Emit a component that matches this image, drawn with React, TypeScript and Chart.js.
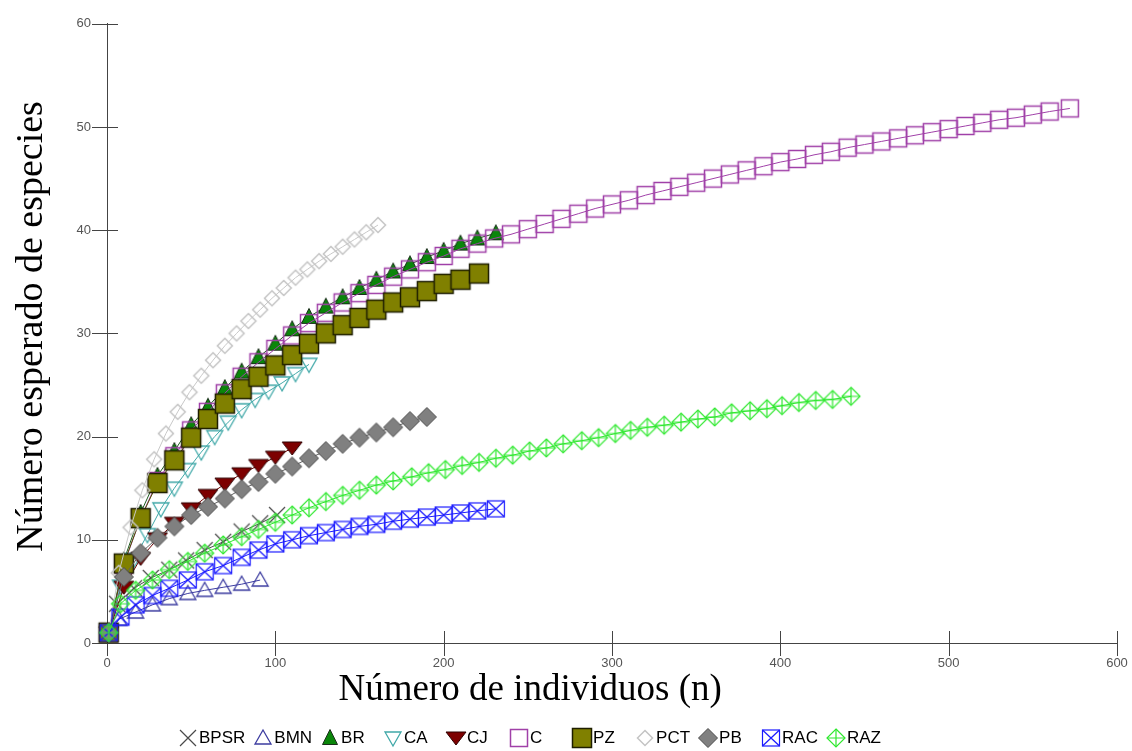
import React, { useEffect, useRef } from 'react';
import { Chart, registerables } from 'chart.js';

Chart.register(...registerables);

// ---- data ----
const seriesNames = ['BPSR', 'BMN', 'BR', 'CA', 'CJ', 'C', 'PZ', 'PCT', 'PB', 'RAC', 'RAZ'];

const xTicks = [0, 100, 200, 300, 400, 500, 600];
const yTicks = [0, 10, 20, 30, 40, 50, 60];
const xTitle = 'Número de individuos (n)';
const yTitle = 'Número esperado de especies';

const bpsrX = [1, 6, 16, 26, 37, 47, 58, 69, 80, 91, 101];
const bpsrY = [1, 3.8, 5.3, 6.3, 7.1, 8.0, 9.0, 9.8, 10.8, 11.6, 12.4];

const bmnX = [1, 7, 17, 27, 37, 48, 58, 69, 80, 91];
const bmnY = [1, 2.3, 3.0, 3.7, 4.3, 4.8, 5.1, 5.4, 5.7, 6.1];

const brX = [1, 10, 20, 30, 40, 50, 60, 70, 80, 90, 100, 110, 120, 130, 140, 150, 160, 170, 180, 190, 200, 210, 220, 231];
const brY = [1, 8.0, 12.6, 16.2, 18.6, 21.1, 22.9, 24.7, 26.3, 27.7, 29.0, 30.4, 31.6, 32.6, 33.5, 34.4, 35.2, 36.0, 36.7, 37.4, 38.0, 38.7, 39.2, 39.7];

const caX = [1, 8, 16, 24, 32, 40, 48, 56, 64, 72, 80, 88, 96, 104, 112, 120];
const caY = [1, 5.5, 8.1, 10.5, 13.0, 15.0, 16.8, 18.5, 20.0, 21.4, 22.6, 23.6, 24.4, 25.2, 26.1, 27.0];

const cjX = [1, 10, 20, 30, 40, 50, 60, 70, 80, 90, 100, 110];
const cjY = [1, 5.4, 8.2, 10.1, 11.6, 13.0, 14.3, 15.4, 16.4, 17.2, 18.0, 18.9];

const cX = [1, 10, 20, 30, 40, 50, 60, 70, 80, 90, 100, 110, 120, 130, 140, 150, 160, 170, 180, 190, 200,
  210, 220, 230, 240, 250, 260, 270, 280, 290, 300, 310, 320, 330, 340, 350, 360, 370, 380, 390, 400,
  410, 420, 430, 440, 450, 460, 470, 480, 490, 500, 510, 520, 530, 540, 550, 560, 572];
const cY = [1, 7.6, 12.1, 15.7, 18.1, 20.6, 22.4, 24.2, 25.8, 27.2, 28.5, 29.8, 31.0, 32.0, 33.0, 33.9, 34.7, 35.5, 36.2, 36.9, 37.5,
  38.2, 38.7, 39.2, 39.6, 40.1, 40.6, 41.1, 41.6, 42.1, 42.5, 42.9, 43.4, 43.8, 44.2, 44.6, 45.0, 45.4, 45.8, 46.2, 46.6,
  46.9, 47.3, 47.6, 48.0, 48.3, 48.6, 48.9, 49.2, 49.5, 49.8, 50.1, 50.4, 50.7, 50.9, 51.2, 51.5, 51.8];

const pzX = [1, 10, 20, 30, 40, 50, 60, 70, 80, 90, 100, 110, 120, 130, 140, 150, 160, 170, 180, 190, 200, 210, 221];
const pzY = [1, 7.7, 12.1, 15.5, 17.7, 19.9, 21.7, 23.2, 24.6, 25.8, 26.9, 27.9, 29.0, 30.0, 30.8, 31.5, 32.3, 33.0, 33.5, 34.1, 34.8, 35.2, 35.8];

const pctX = [1, 7, 14, 21, 28, 35, 42, 49, 56, 63, 70, 77, 84, 91, 98, 105, 112, 119, 126, 133, 140, 147, 154, 161];
const pctY = [1, 6.8, 11.2, 14.8, 17.8, 20.3, 22.4, 24.3, 25.9, 27.4, 28.8, 30.0, 31.2, 32.3, 33.4, 34.4, 35.4, 36.2, 37.0, 37.7, 38.4, 39.1, 39.8, 40.5];

const pbX = [1, 10, 20, 30, 40, 50, 60, 70, 80, 90, 100, 110, 120, 130, 140, 150, 160, 170, 180, 190];
const pbY = [1, 6.4, 8.7, 10.2, 11.3, 12.4, 13.2, 14.0, 14.9, 15.6, 16.4, 17.1, 17.9, 18.6, 19.3, 19.9, 20.4, 20.9, 21.5, 21.9];

const racX = [1, 8, 17, 27, 37, 48, 58, 69, 80, 90, 100, 110, 120, 130, 140, 150, 160, 170, 180, 190, 200, 210, 220, 231];
const racY = [1, 2.5, 3.7, 4.6, 5.3, 6.1, 6.9, 7.5, 8.3, 9.0, 9.6, 10.0, 10.4, 10.7, 11.0, 11.3, 11.5, 11.8, 12.0, 12.2, 12.4, 12.6, 12.8, 13.0];

const razX = [1, 8, 17, 27, 37, 48, 58, 69, 80, 90, 100, 110, 120, 130, 140, 150, 160, 170, 181, 191, 201, 211, 221, 231,
  241, 251, 261, 271, 282, 292, 302, 311, 321, 331, 341, 351, 361, 371, 382, 392, 401, 411, 421, 431, 442];
const razY = [1, 3.8, 5.1, 6.1, 7.1, 7.9, 8.7, 9.5, 10.3, 11.0, 11.7, 12.4, 13.1, 13.7, 14.3, 14.8, 15.3, 15.7, 16.1, 16.5, 16.8, 17.2, 17.5, 17.9,
  18.2, 18.6, 18.9, 19.3, 19.6, 19.9, 20.3, 20.6, 20.9, 21.1, 21.4, 21.7, 21.9, 22.3, 22.5, 22.7, 23.0, 23.3, 23.5, 23.6, 23.9];

const seriesX = [bpsrX, bmnX, brX, caX, cjX, cX, pzX, pctX, pbX, racX, razX];
const seriesY = [bpsrY, bmnY, brY, caY, cjY, cY, pzY, pctY, pbY, racY, razY];

// ---- styles ----
const lineColors = ['#4a4a4a', '#3c3ca0', '#1f5a1f', '#40a8a8', '#6a0000', '#a040a8', '#505000', '#c8c8c8', '#606060', '#1a1aff', '#2ee82e'];
const SANS = '"Liberation Sans", Arial, sans-serif';
const SERIF = '"Liberation Serif", "Times New Roman", serif';

type Drawer = (ctx: CanvasRenderingContext2D, c: number) => void;

function makeMarker(draw: Drawer, size = 26): HTMLCanvasElement {
  const cv = document.createElement('canvas');
  cv.width = size;
  cv.height = size;
  const ctx = cv.getContext('2d')!;
  draw(ctx, size / 2);
  return cv;
}

function poly(ctx: CanvasRenderingContext2D, pts: number[][]) {
  ctx.beginPath();
  ctx.moveTo(pts[0][0], pts[0][1]);
  for (let i = 1; i < pts.length; i++) ctx.lineTo(pts[i][0], pts[i][1]);
  ctx.closePath();
}

function buildMarkers(): HTMLCanvasElement[] {
  return [
    // BPSR: X
    makeMarker((ctx, c) => {
      ctx.strokeStyle = '#4a4a4a';
      ctx.lineWidth = 1.2;
      ctx.beginPath();
      ctx.moveTo(c - 8, c - 8); ctx.lineTo(c + 8, c + 8);
      ctx.moveTo(c - 8, c + 8); ctx.lineTo(c + 8, c - 8);
      ctx.stroke();
    }),
    // BMN: open up triangle
    makeMarker((ctx, c) => {
      poly(ctx, [[c, c - 8], [c + 8, c + 6], [c - 8, c + 6]]);
      ctx.strokeStyle = '#3c3ca0';
      ctx.lineWidth = 1.3;
      ctx.stroke();
    }),
    // BR: filled green up triangle
    makeMarker((ctx, c) => {
      poly(ctx, [[c, c - 8.5], [c + 7.5, c + 6.5], [c - 7.5, c + 6.5]]);
      ctx.fillStyle = '#0a860a';
      ctx.fill();
      ctx.strokeStyle = '#1a2e1a';
      ctx.lineWidth = 1;
      ctx.stroke();
    }),
    // CA: open down triangle
    makeMarker((ctx, c) => {
      poly(ctx, [[c - 8, c - 6], [c + 8, c - 6], [c, c + 8]]);
      ctx.strokeStyle = '#40a8a8';
      ctx.lineWidth = 1.3;
      ctx.stroke();
    }),
    // CJ: filled dark red down triangle
    makeMarker((ctx, c) => {
      poly(ctx, [[c - 10, c - 6], [c + 10, c - 6], [c, c + 7]]);
      ctx.fillStyle = '#7d0000';
      ctx.fill();
      ctx.strokeStyle = '#2e0000';
      ctx.lineWidth = 1;
      ctx.stroke();
    }),
    // C: open purple square
    makeMarker((ctx, c) => {
      ctx.strokeStyle = '#a040a8';
      ctx.lineWidth = 1.5;
      ctx.strokeRect(c - 8.5, c - 8.5, 17, 17);
    }),
    // PZ: filled olive square
    makeMarker((ctx, c) => {
      ctx.fillStyle = '#808000';
      ctx.fillRect(c - 9.5, c - 9.5, 19, 19);
      ctx.strokeStyle = '#1e1e00';
      ctx.lineWidth = 1.5;
      ctx.strokeRect(c - 9.5, c - 9.5, 19, 19);
    }),
    // PCT: open light gray diamond
    makeMarker((ctx, c) => {
      poly(ctx, [[c, c - 7.5], [c + 7.5, c], [c, c + 7.5], [c - 7.5, c]]);
      ctx.strokeStyle = '#c4c4c4';
      ctx.lineWidth = 1.5;
      ctx.stroke();
    }),
    // PB: filled gray diamond
    makeMarker((ctx, c) => {
      poly(ctx, [[c, c - 9.5], [c + 9.5, c], [c, c + 9.5], [c - 9.5, c]]);
      ctx.fillStyle = '#808080';
      ctx.fill();
      ctx.strokeStyle = '#4a4a4a';
      ctx.lineWidth = 1;
      ctx.stroke();
    }),
    // RAC: square with X
    makeMarker((ctx, c) => {
      ctx.strokeStyle = '#1a1aff';
      ctx.lineWidth = 1.2;
      ctx.strokeRect(c - 8.5, c - 8, 17, 16);
      ctx.beginPath();
      ctx.moveTo(c - 8.5, c - 8); ctx.lineTo(c + 8.5, c + 8);
      ctx.moveTo(c - 8.5, c + 8); ctx.lineTo(c + 8.5, c - 8);
      ctx.stroke();
    }),
    // RAZ: diamond with +
    makeMarker((ctx, c) => {
      ctx.strokeStyle = '#2ee82e';
      ctx.lineWidth = 1.2;
      poly(ctx, [[c, c - 9], [c + 9, c], [c, c + 9], [c - 9, c]]);
      ctx.stroke();
      ctx.beginPath();
      ctx.moveTo(c - 9, c); ctx.lineTo(c + 9, c);
      ctx.moveTo(c, c - 9); ctx.lineTo(c, c + 9);
      ctx.stroke();
    }),
  ];
}

const crossTicksPlugin = {
  id: 'crossTicks',
  beforeDatasetsDraw(chart: any) {
    const { ctx, chartArea: a, scales } = chart;
    ctx.save();
    ctx.strokeStyle = '#444';
    ctx.lineWidth = 1;
    ctx.beginPath();
    scales.x.ticks.forEach((t: any) => {
      const px = Math.round(scales.x.getPixelForValue(t.value)) + 0.5;
      ctx.moveTo(px, a.bottom - 12);
      ctx.lineTo(px, a.bottom + 13);
    });
    scales.y.ticks.forEach((t: any) => {
      const py = Math.round(scales.y.getPixelForValue(t.value)) + 0.5;
      ctx.moveTo(a.left - 15, py);
      ctx.lineTo(a.left + 11, py);
    });
    ctx.stroke();
    ctx.restore();
  },
};

const titlesPlugin = {
  id: 'axisTitles',
  afterDraw(chart: any) {
    const { ctx, chartArea: a } = chart;
    ctx.save();
    ctx.fillStyle = '#000';
    ctx.textAlign = 'center';
    ctx.textBaseline = 'middle';
    ctx.font = `37px ${SERIF}`;
    ctx.fillText(xTitle, a.left + a.width * 0.419, a.bottom + 47);
    ctx.translate(a.left - 75, (a.top + a.bottom) / 2 - 7);
    ctx.rotate(-Math.PI / 2);
    ctx.font = `38px ${SERIF}`;
    ctx.fillText(yTitle, 0, 0);
    ctx.restore();
  },
};

const legendPlugin = {
  id: 'bottomLegend',
  afterDraw(chart: any) {
    const { ctx, chartArea: a } = chart;
    ctx.save();
    ctx.font = `17px ${SANS}`;
    ctx.textBaseline = 'middle';
    ctx.textAlign = 'left';
    ctx.fillStyle = '#000';
    const y = chart.height - 13;
    let center = a.left + 81;
    chart.data.datasets.forEach((ds: any) => {
      const img = ds.pointStyle as HTMLCanvasElement;
      ctx.drawImage(img, Math.round(center - img.width / 2), Math.round(y - img.height / 2));
      const tx = center + 11;
      ctx.fillText(ds.label, tx, y);
      const tw = ctx.measureText(ds.label).width;
      center = Math.max(center + 63, tx + tw + 18);
    });
    ctx.restore();
  },
};

export default function App() {
  const ref = useRef<HTMLCanvasElement | null>(null);

  useEffect(() => {
    if (!ref.current) return;
    const markers = buildMarkers();
    const n = seriesNames.length;
    const datasets = seriesNames.map((name, i) => ({
      label: name,
      data: seriesX[i].map((x, j) => ({ x, y: seriesY[i][j] })),
      showLine: true,
      borderColor: lineColors[i],
      backgroundColor: lineColors[i],
      borderWidth: 1,
      pointStyle: markers[i],
      pointRadius: 8,
      pointHoverRadius: 8,
      tension: 0,
      clip: false as any,
      order: n - i,
    }));

    const chart = new Chart(ref.current, {
      type: 'scatter',
      data: { datasets },
      options: {
        animation: false,
        responsive: false,
        events: [],
        layout: { padding: { top: 22, right: 15, left: 0, bottom: 0 } },
        plugins: {
          legend: { display: false },
          tooltip: { enabled: false },
        },
        scales: {
          x: {
            type: 'linear',
            min: xTicks[0],
            max: xTicks[xTicks.length - 1],
            ticks: {
              stepSize: xTicks[1] - xTicks[0],
              color: '#555',
              font: { family: SANS, size: 13 },
              padding: 13,
              maxRotation: 0,
            },
            grid: { display: false, drawTicks: false },
            border: { display: true, color: '#444', width: 1 },
            afterFit: (s: any) => { s.height = 108; s.paddingLeft = 0; s.paddingRight = 0; },
          },
          y: {
            type: 'linear',
            min: yTicks[0],
            max: yTicks[yTicks.length - 1],
            ticks: {
              stepSize: yTicks[1] - yTicks[0],
              color: '#555',
              font: { family: SANS, size: 13 },
              padding: 16,
            },
            grid: { display: false, drawTicks: false },
            border: { display: true, color: '#444', width: 1 },
            afterFit: (s: any) => { s.width = 107; },
          },
        },
      },
      plugins: [crossTicksPlugin, titlesPlugin, legendPlugin],
    });
    return () => chart.destroy();
  }, []);

  return (
    <div style={{ position: 'fixed', left: 0, top: 0, width: 1132, height: 751, background: '#fff' }}>
      <canvas ref={ref} width={1132} height={751} style={{ display: 'block', width: 1132, height: 751 }} />
    </div>
  );
}
